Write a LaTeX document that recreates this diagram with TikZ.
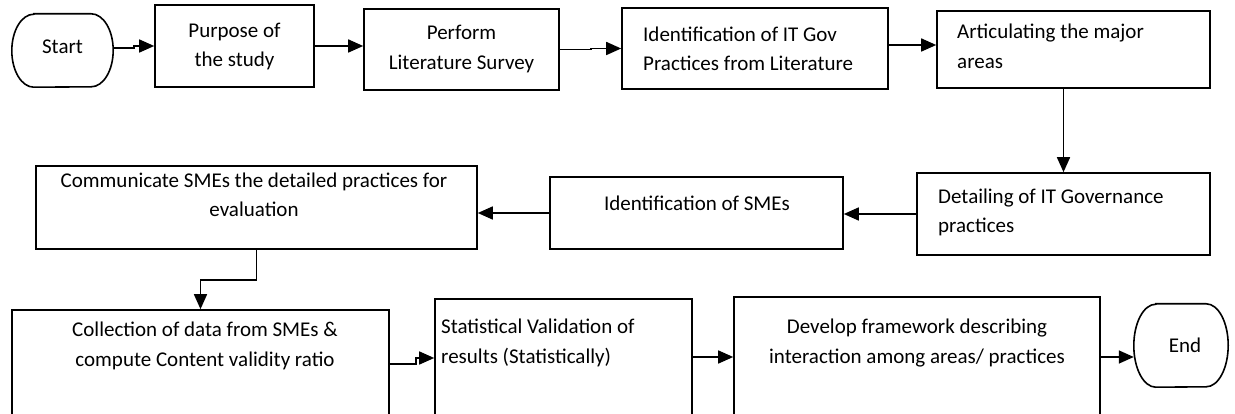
\documentclass[tikz,border=0pt]{standalone}
\usepackage{fontspec}
\setmainfont{Carlito}
\usetikzlibrary{arrows.meta}

% outline of a terminator: straight top and bottom, elliptic ends
\newcommand\termoutline[3]{%
  \draw[line width=1.6pt]
    ([xshift=#2]#1.north west) -- ([xshift=-#2]#1.north east)
    arc[start angle=90,end angle=-90,x radius=#2,y radius=#3]
    -- ([xshift=#2]#1.south west)
    arc[start angle=-90,end angle=-270,x radius=#2,y radius=#3] -- cycle;}

\begin{document}
\begin{tikzpicture}[x=1pt, y=-1pt,
  box/.style={draw, line width=1.6pt, inner sep=0pt},
  term/.style={inner sep=0pt},
  txt/.style={font=\fontsize{21}{29.5}\selectfont, inner sep=0pt},
  arr/.style={line width=1.6pt, -{Triangle[length=15pt,width=13pt]}},
]
\fill[white] (0,0) rectangle (1235,414);
\useasboundingbox (0,0) rectangle (1235,414);
\clip (0,0) rectangle (1235,414);

% first row
\node[term, minimum width=101pt, minimum height=73pt] (start) at (62.5,50.5) {};
\termoutline{start}{22pt}{36.5pt}
\node[txt] (start-t) at (62.5,47) {Start};

\node[box, minimum width=159pt, minimum height=82pt] (purpose) at (234.5,46) {};
\node[txt, align=center] (purpose-t) at (234.5,46.5) {Purpose of\\the study};

\node[box, minimum width=195pt, minimum height=81pt] (perform) at (461.5,49.5) {};
\node[txt, align=center] (perform-t) at (461.5,49) {Perform\\Literature Survey};

\node[box, minimum width=266pt, minimum height=81pt] (ident) at (755,48.5) {};
\node[txt, align=left, anchor=west] (ident-t) at (643,49) {Identification of IT Gov\\Practices from Literature};

\node[box, minimum width=273pt, minimum height=77pt] (artic) at (1073.5,49.5) {};
\node[txt, align=left, anchor=west] (artic-t) at (957,46.5) {Articulating the major\\areas};

% second row
\node[box, minimum width=293pt, minimum height=82pt] (detail) at (1063.5,214) {};
\node[txt, align=left, anchor=west] (detail-t) at (938,212.5) {Detailing of IT Governance\\practices};

\node[box, minimum width=293pt, minimum height=72pt] (smes) at (696.5,213) {};
\node[txt] (smes-t) at (697,203) {Identification of SMEs};

\node[box, minimum width=441pt, minimum height=83pt] (comm) at (256.5,207.5) {};
\node[txt, align=center] (comm-t) at (254,195) {Communicate SMEs the detailed practices for\\evaluation};

% third row (boxes run past the lower edge)
\node[box, minimum width=377pt, minimum height=130pt] (collect) at (200.5,375) {};
\node[txt, align=center] (collect-t) at (205,346) {Collection of data from SMEs \&\\compute Content validity ratio};

\node[box, minimum width=257pt, minimum height=141pt] (stat) at (563.5,369.5) {};
\node[txt, align=left, anchor=west] (stat-t) at (441,343) {Statistical Validation of\\results (Statistically)};

\node[box, minimum width=366pt, minimum height=143pt] (develop) at (917,368.5) {};
\node[txt, align=center] (develop-t) at (917,343) {Develop framework describing\\interaction among areas/ practices};

\node[term, minimum width=94pt, minimum height=83pt] (end) at (1181,345.5) {};
\termoutline{end}{22pt}{41.5pt}
\node[txt] (end-t) at (1185,345) {End};

% connectors
\draw[arr] ([yshift=2.5pt]start.east) -- ++(21,0) |- (purpose.west);
\draw[arr] (purpose.east) -- (purpose.east -| perform.west);
\draw[arr] (perform.east) -- ++(31,0) |- (ident.west);
\draw[arr] ([yshift=3.5pt]ident.east) -- ([yshift=3.5pt]ident.east -| artic.west);
\draw[arr] (artic.south -| detail.north) -- (detail.north);
\draw[arr] (detail.west) -- (detail.west -| smes.east);
\draw[arr] (smes.west) -- (smes.west -| comm.east);
\draw[arr] (comm.south) -- ++(0,30) -| (collect.north);
\draw[arr] ([yshift=11pt]collect.east) -- ++(26,0) |- ([yshift=11.5pt]stat.west);
\draw[arr] ([yshift=12.5pt]stat.east) -- ([yshift=12.5pt]stat.east -| develop.west);
\draw[arr] ([yshift=11.5pt]develop.east) -- ([yshift=11.5pt]develop.east -| end.west);
\end{tikzpicture}
\end{document}
